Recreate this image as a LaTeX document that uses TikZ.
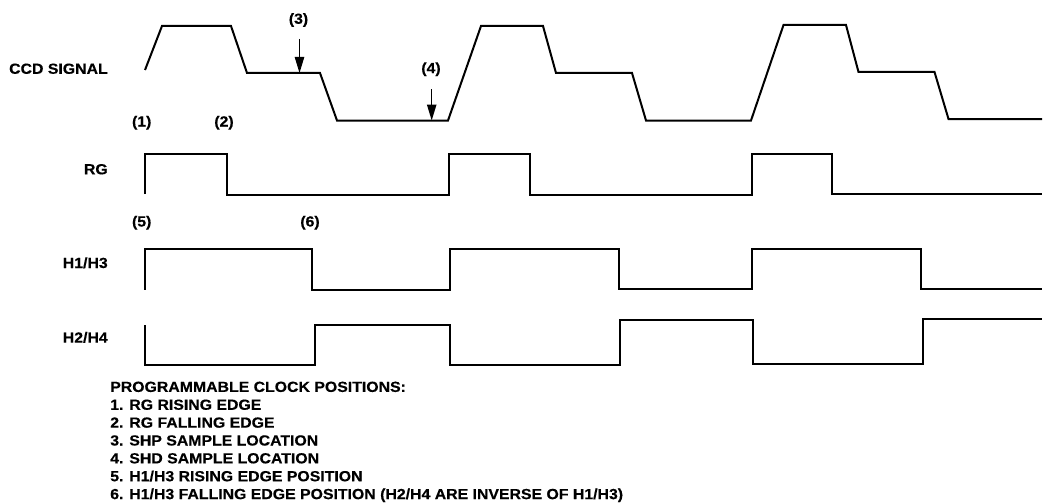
\documentclass[tikz,border=0pt]{standalone}
\usepackage{fontspec}
\setmainfont{Liberation Sans}[FakeStretch=1.08,BoldFeatures={FakeBold=0.4}]
\usetikzlibrary{arrows.meta,positioning}
\tikzset{
    %Define standard arrow tip
    >={Triangle[length=12pt,width=7pt]},
    %Define style for signal names
    sig/.style={
           anchor=base east,
           inner sep=0pt,
           font=\bfseries\fontsize{11}{13}\selectfont},
    %Define style for clock position marks
    posmark/.style={
           anchor=base,
           inner sep=0pt,
           font=\bfseries\fontsize{11}{13}\selectfont},
    % Define waveform style
    wave/.style={
           line width=1.5pt,
           line join=miter},
    % Define arrow style
    pil/.style={
           ->,
           line width=1.1pt}
}
\begin{document}
\begin{tikzpicture}[x=0.75pt,y=-0.75pt]
 \useasboundingbox (0,0) rectangle (1045,503);
 %signal names
 \node[sig] (ccd) at (108,73.8) {CCD SIGNAL};
 \node[sig] (rg) at (108,174.3) {RG};
 \node[sig] (h13) at (108,268) {H1/H3};
 \node[sig] (h24) at (108,342.6) {H2/H4};
 %clock positions
 \node[posmark] (p1) at (141.7,126.5) {(1)};
 \node[posmark] (p2) at (224,126.5) {(2)};
 \node[posmark] (p3) at (298.5,23.8) {(3)};
 \node[posmark] (p4) at (431,73.1) {(4)};
 \node[posmark] (p5) at (141.7,226.5) {(5)};
 \node[posmark] (p6) at (310,226.5) {(6)};
 %waveforms
 \draw[wave] (145,70) -- (162,26) -- (231,26) -- (247,73) -- (320,73)
   -- (337,120.5) -- (448,120.5) -- (481,26) -- (543,26) -- (556,73)
   -- (632,73) -- (646,120.5) -- (751,120.5) -- (783.5,25) -- (846,25)
   -- (858.5,72) -- (934.5,72) -- (948.5,119) -- (1042,119);
 \draw[wave] (145,194) -- (145,154) -- (227,154) -- (227,194.5)
   -- (449,194.5) -- (449,154) -- (530,154) -- (530,194.5) -- (752,194.5)
   -- (752,154) -- (832,154) -- (832,194) -- (1042,194);
 \draw[wave] (145,289.5) -- (145,249) -- (312,249) -- (312,289.5)
   -- (450,289.5) -- (450,249) -- (618.5,249) -- (618.5,289) -- (752,289)
   -- (752,248.5) -- (921,248.5) -- (921,288.5) -- (1042,288.5);
 \draw[wave] (145,325) -- (145,365) -- (315,365) -- (315,324.5)
   -- (450,324.5) -- (450,365) -- (620,365) -- (620,320) -- (752.5,320)
   -- (752.5,364) -- (923,364) -- (923,319) -- (1042,319);
 %sample locations
 \coordinate (shptop) at (299.5,39);
 \coordinate (shp) at (299.5,73);
 \coordinate (shdtop) at (431.7,89);
 \coordinate (shd) at (431.7,120.5);
 \draw[pil] (shptop) -- (shp);
 \draw[pil] (shdtop) -- (shd);
 %notes
 \node[anchor=north west, inner sep=0pt, align=left,
   font=\bfseries\fontsize{11}{13.4}\selectfont] (notes) at (110,381.4)
   {PROGRAMMABLE CLOCK POSITIONS:\\
    1. RG RISING EDGE\\
    2. RG FALLING EDGE\\
    3. SHP SAMPLE LOCATION\\
    4. SHD SAMPLE LOCATION\\
    5. H1/H3 RISING EDGE POSITION\\
    6. H1/H3 FALLING EDGE POSITION (H2/H4 ARE INVERSE OF H1/H3)};
\end{tikzpicture}
\end{document}
